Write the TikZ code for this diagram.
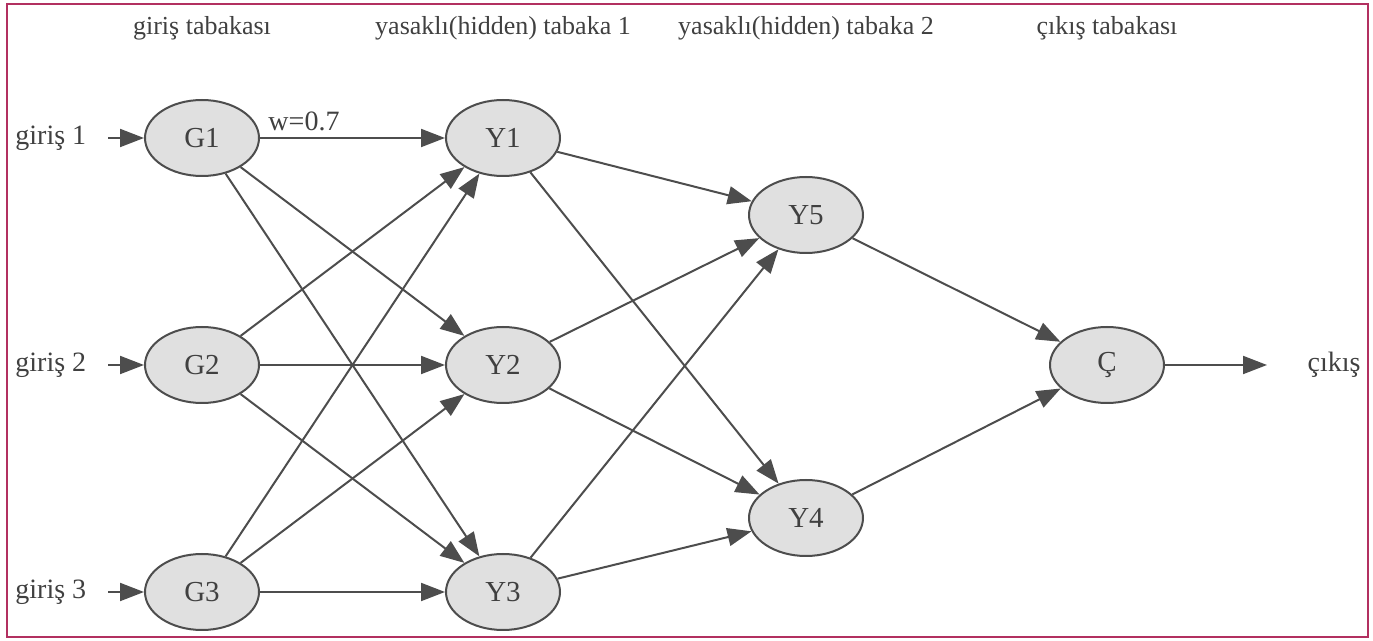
\documentclass[tikz,border=0pt]{standalone}
\usepackage{fontspec}
\setmainfont{Liberation Serif}
\usetikzlibrary{shapes.geometric,arrows.meta}
\definecolor{frame}{RGB}{178,48,96}
\definecolor{ln}{RGB}{77,77,77}
\definecolor{fillg}{RGB}{224,224,224}
\definecolor{txt}{RGB}{64,64,64}
\begin{document}
\begin{tikzpicture}[x=0.5pt,y=0.5pt,
  neuron/.style={ellipse,draw=ln,line width=1pt,fill=fillg,minimum width=57pt,minimum height=38pt,inner sep=0pt,text=txt,font=\fontsize{14.5}{17}\selectfont},
  lbl/.style={text=txt,font=\fontsize{14}{17}\selectfont,inner sep=0pt},
  ttl/.style={text=txt,font=\fontsize{13}{16}\selectfont,inner sep=0pt},
  conn/.style={draw=ln,line width=1pt,-{Triangle[length=12pt,width=9pt]}}]
\useasboundingbox (0,0) rectangle (1373,-641);
\draw[frame,line width=1pt] (7,-4) rectangle (1368,-637);
% layer titles
\node[ttl] (t1) at (202,-28) {giriş tabakası};
\node[ttl] (t2) at (503,-28) {yasaklı(hidden) tabaka 1};
\node[ttl] (t3) at (806,-28) {yasaklı(hidden) tabaka 2};
\node[ttl] (t4) at (1107,-28) {çıkış tabakası};
% neurons
\node[neuron] (G1) at (202,-138) {G1};
\node[neuron] (G2) at (202,-365) {G2};
\node[neuron] (G3) at (202,-592) {G3};
\node[neuron] (Y1) at (503,-138) {Y1};
\node[neuron] (Y2) at (503,-365) {Y2};
\node[neuron] (Y3) at (503,-592) {Y3};
\node[neuron] (Y5) at (806,-215) {Y5};
\node[neuron] (Y4) at (806,-518) {Y4};
\node[neuron] (C) at (1107,-365) {Ç};
% inputs / output
\node[lbl,anchor=west] (i1) at (15,-138) {giriş 1};
\node[lbl,anchor=west] (i2) at (15,-365) {giriş 2};
\node[lbl,anchor=west] (i3) at (15,-592) {giriş 3};
\node[lbl,anchor=east] (out) at (1361,-365) {çıkış};
\coordinate (a1) at (108,-138);
\coordinate (a2) at (108,-365);
\coordinate (a3) at (108,-592);
\coordinate (oe) at (1267,-365);
\draw[conn] (a1) -- (G1);
\draw[conn] (a2) -- (G2);
\draw[conn] (a3) -- (G3);
\draw[conn] (C) -- (oe);
% layer 1 -> 2
\draw[conn] (G1) -- (Y1);
\node[lbl] (w) at (304,-121) {w=0.7};
\draw[conn] (G1) -- (Y2);
\draw[conn] (G1) -- (Y3);
\draw[conn] (G2) -- (Y1);
\draw[conn] (G2) -- (Y2);
\draw[conn] (G2) -- (Y3);
\draw[conn] (G3) -- (Y1);
\draw[conn] (G3) -- (Y2);
\draw[conn] (G3) -- (Y3);
% layer 2 -> 3
\draw[conn] (Y1) -- (Y5);
\draw[conn] (Y1) -- (Y4);
\draw[conn] (Y2) -- (Y5);
\draw[conn] (Y2) -- (Y4);
\draw[conn] (Y3) -- (Y5);
\draw[conn] (Y3) -- (Y4);
% layer 3 -> output
\draw[conn] (Y5) -- (C);
\draw[conn] (Y4) -- (C);
\end{tikzpicture}
\end{document}
